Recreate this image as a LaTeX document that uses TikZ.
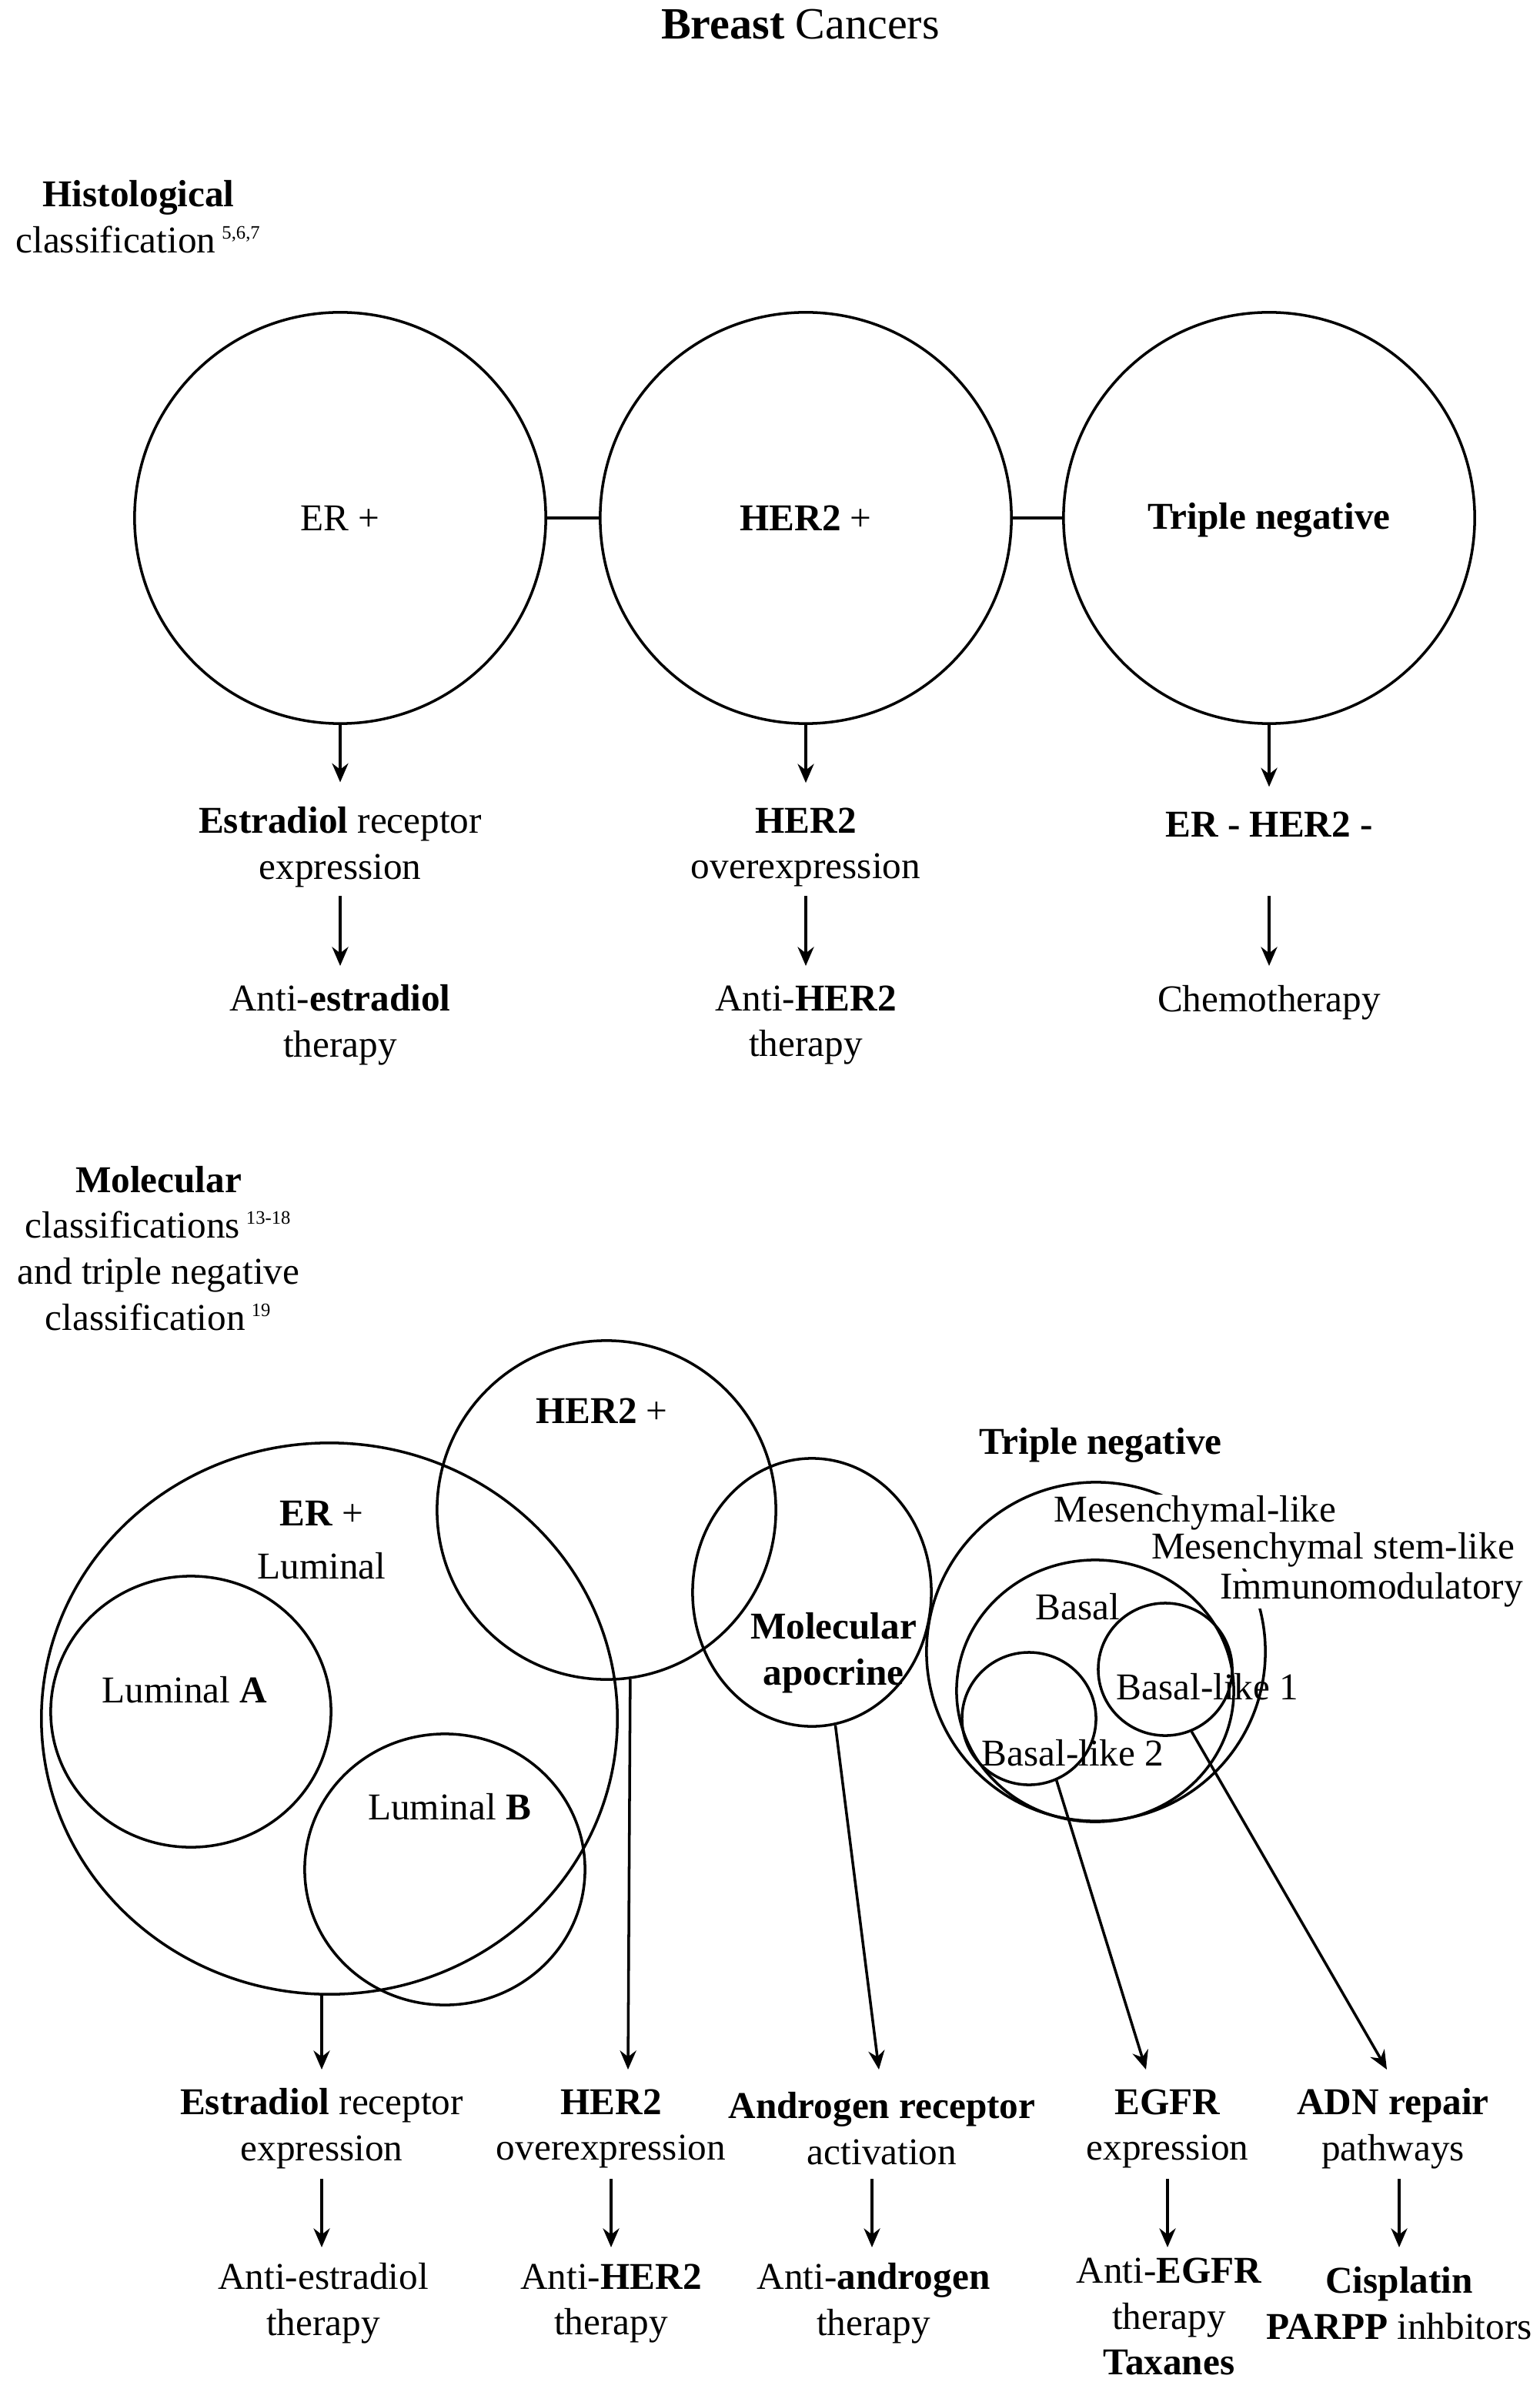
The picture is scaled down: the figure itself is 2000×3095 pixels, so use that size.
\documentclass[tikz,border=0pt]{standalone}
\usepackage{fontspec}
\setmainfont{Liberation Serif}
\usetikzlibrary{shapes.geometric,arrows.meta}
\begin{document}
\begin{tikzpicture}[x=0.01cm,y=-0.01cm,
  txt/.style={font=\fontsize{14}{17}\selectfont,align=center,inner sep=1pt},
  wtxt/.style={txt,fill=white,inner sep=0.5pt},
  ring/.style={draw,line width=1pt,ellipse,inner sep=0pt},
  arr/.style={line width=1pt,-{Stealth[length=7pt,width=6pt]}},
  ln/.style={line width=1pt}]
\useasboundingbox (0,0) rectangle (2000,3095);
\node[txt,font=\fontsize{16.5}{20}\selectfont] (title) at (1040,32) {\textbf{Breast} Cancers};
\node[txt] (hist) at (180,282) {\textbf{Histological}\\classification\,\textsuperscript{\scriptsize 5,6,7}};
% top circles
\node[ring,minimum width=5.34cm,minimum height=5.34cm] (c1) at (442,673) {};
\node[ring,minimum width=5.34cm,minimum height=5.34cm] (c2) at (1047,673) {};
\node[ring,minimum width=5.34cm,minimum height=5.34cm] (c3) at (1649,673) {};
\node[txt] at (442,673) {ER +};
\node[txt] at (1047,673) {\textbf{HER2} +};
\node[txt] at (1649,676) {\textbf{Triple negative}};
\draw[ln] (c1.east) -- (c2.west);
\draw[ln] (c2.east) -- (c3.west);
\node[txt] (t1) at (442,1101) {\textbf{Estradiol} receptor\\expression};
\node[txt] (t2) at (1047,1101) {\textbf{HER2}\\overexpression};
\node[txt] (t3) at (1649,1071) {\textbf{ER - HER2 -}};
\node[txt] (u1) at (442,1332) {Anti-\textbf{estradiol}\\therapy};
\node[txt] (u2) at (1047,1332) {Anti-\textbf{HER2}\\therapy};
\node[txt] (u3) at (1649,1303) {Chemotherapy};
\foreach \i in {1,2,3}{\draw[arr,shorten >=8pt] (c\i.south) -- (t\i.north);}
\draw[arr] (442,1164) -- (442,1255);
\draw[arr] (1047,1164) -- (1047,1255);
\draw[arr] (1649,1164) -- (1649,1255);
% molecular
\node[txt] (mol) at (206,1622) {\textbf{Molecular}\\classifications\,\textsuperscript{\scriptsize 13-18}\\and triple negative\\classification\,\textsuperscript{\scriptsize 19}};
\node[ring,minimum width=7.48cm,minimum height=7.16cm] (er) at (428,2233) {};
\node[ring,minimum width=3.64cm,minimum height=3.52cm] (la) at (248,2224) {};
\node[ring,minimum width=3.64cm,minimum height=3.52cm] (lb) at (578,2429) {};
\node[ring,minimum width=4.4cm,minimum height=4.4cm] (her) at (788,1962) {};
\node[ring,minimum width=3.1cm,minimum height=3.48cm] (apo) at (1055,2069) {};
\node[txt] at (418,1966) {\textbf{ER} +};
\node[txt] at (418,2035) {Luminal};
\node[txt] at (240,2196) {Luminal \textbf{A}};
\node[txt] at (584,2348) {Luminal \textbf{B}};
\node[txt] at (782,1833) {\textbf{HER2} +};
\node[txt] at (1083,2148) {\textbf{Molecular}\\\textbf{apocrine}};
% triple negative
\node[txt] at (1430,1878) {\textbf{Triple negative}};
\node[ring,minimum width=4.4cm,minimum height=4.4cm] (mes) at (1424,2146) {};
\node[ring,minimum width=3.6cm,minimum height=3.4cm] (bas) at (1423,2197) {};
\node[ring,minimum width=1.74cm,minimum height=1.72cm] (bl1) at (1514,2169) {};
\node[ring,minimum width=1.74cm,minimum height=1.72cm] (bl2) at (1337,2233) {};
\node[wtxt] at (1553,1966) {Mesenchymal-like};
\node[wtxt] at (1732,2014) {Mesenchymal stem-like};
\node[wtxt] at (1782,2066) {Immunomodulatory};
\node[txt] at (1400,2088) {Basal};
\node[txt] at (1569,2192) {Basal-like 1};
\node[txt] at (1394,2278) {Basal-like 2};
% bottom labels
\node[txt] (r1) at (418,2766) {\textbf{Estradiol} receptor\\expression};
\node[txt] (r2) at (794,2766) {\textbf{HER2}\\overexpression};
\node[txt] (r3) at (1146,2766) {\textbf{Androgen receptor}\\activation};
\node[txt] (r4) at (1517,2766) {\textbf{EGFR}\\expression};
\node[txt] (r5) at (1810,2766) {\textbf{ADN repair}\\pathways};
\node[txt] (s1) at (420,2993) {Anti-estradiol\\therapy};
\node[txt] (s2) at (794,2993) {Anti-\textbf{HER2}\\therapy};
\node[txt] (s3) at (1135,2993) {Anti-\textbf{androgen}\\therapy};
\node[txt] (s4) at (1519,3010) {Anti-\textbf{EGFR}\\therapy\\\textbf{Taxanes}};
\node[txt] (s5) at (1818,2993) {\textbf{Cisplatin}\\\textbf{PARPP} inhbitors};
\coordinate (e1) at (418,2689);
\coordinate (e2) at (816,2689);
\coordinate (e3) at (1142,2689);
\coordinate (e4) at (1489,2689);
\coordinate (e5) at (1802,2689);
\draw[arr] (418,2592) -- (e1);
\draw[arr] (her.-82) -- (e2);
\draw[arr] (apo.-80) -- (e3);
\draw[arr] (bl2.-66) -- (e4);
\draw[arr] (bl1.-67) -- (e5);
\draw[arr] (418,2831) -- (418,2920);
\draw[arr] (794,2831) -- (794,2920);
\draw[arr] (1133,2831) -- (1133,2920);
\draw[arr] (1517,2831) -- (1517,2920);
\draw[arr] (1818,2831) -- (1818,2920);
\end{tikzpicture}
\end{document}
